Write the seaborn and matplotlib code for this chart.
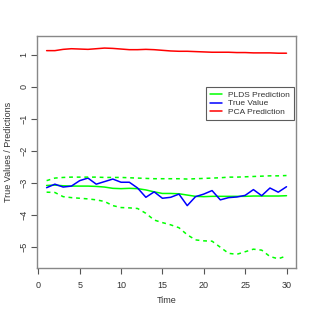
import numpy as np
import pandas as pd
import matplotlib
matplotlib.use("Agg")
import matplotlib.pyplot as plt
import seaborn as sns

time = np.arange(1, 31)

pca_pred = [1.13, 1.13, 1.17, 1.19, 1.18, 1.17, 1.19, 1.21, 1.20, 1.18,
            1.16, 1.16, 1.17, 1.16, 1.14, 1.12, 1.11, 1.11, 1.10, 1.09,
            1.08, 1.08, 1.08, 1.07, 1.07, 1.06, 1.06, 1.06, 1.05, 1.05]

true_value = [-3.15, -3.04, -3.13, -3.10, -2.93, -2.85, -3.04, -2.96, -2.88, -2.98,
              -2.98, -3.16, -3.45, -3.28, -3.48, -3.45, -3.35, -3.71, -3.43, -3.35,
              -3.24, -3.53, -3.46, -3.44, -3.39, -3.21, -3.40, -3.16, -3.29, -3.12]

plds_pred = [-3.08, -3.07, -3.09, -3.10, -3.10, -3.10, -3.11, -3.13, -3.17, -3.18,
             -3.17, -3.18, -3.22, -3.28, -3.33, -3.33, -3.34, -3.38, -3.42, -3.43,
             -3.42, -3.42, -3.42, -3.42, -3.42, -3.41, -3.41, -3.41, -3.41, -3.40]

plds_upper = [-2.93, -2.85, -2.83, -2.82, -2.82, -2.82, -2.82, -2.83, -2.83, -2.83,
              -2.84, -2.85, -2.86, -2.87, -2.87, -2.87, -2.87, -2.88, -2.87, -2.86,
              -2.85, -2.84, -2.82, -2.82, -2.81, -2.80, -2.79, -2.78, -2.78, -2.77]

plds_lower = [-3.29, -3.30, -3.43, -3.46, -3.48, -3.50, -3.53, -3.58, -3.71, -3.77,
              -3.78, -3.80, -3.95, -4.16, -4.24, -4.31, -4.40, -4.62, -4.78, -4.81,
              -4.82, -5.01, -5.20, -5.23, -5.15, -5.07, -5.10, -5.30, -5.37, -5.28]

sns.set_style("white")
plt.rcParams["font.family"] = ["Liberation Sans", "DejaVu Sans"]
grey = "#555555"
txt = "#333333"

fig = plt.figure(figsize=(3.15, 3.15), dpi=100)
ax = fig.add_axes([0.1175, 0.149, 0.8225, 0.737])

lw = 1.1
dash = (0, (2.5, 2.5))
sns.lineplot(x=time, y=plds_pred, color="#00ff00", lw=lw, ax=ax, label="PLDS Prediction")
sns.lineplot(x=time, y=true_value, color="#0000ff", lw=lw, ax=ax, label="True Value")
sns.lineplot(x=time, y=pca_pred, color="#ff0000", lw=lw, ax=ax, label="PCA Prediction")
sns.lineplot(x=time, y=plds_upper, color="#00ff00", lw=lw, ls=dash, ax=ax)
sns.lineplot(x=time, y=plds_lower, color="#00ff00", lw=lw, ls=dash, ax=ax)

ax.set_xlim(-0.16, 31.16)
ax.set_ylim(-5.66, 1.59)
ax.set_xticks([0, 5, 10, 15, 20, 25, 30])
ax.set_yticks([-5, -4, -3, -2, -1, 0, 1])
ax.set_yticklabels(["\u22125", "\u22124", "\u22123", "\u22122", "\u22121", "0", "1"],
                   rotation=90, va="center")
ax.tick_params(axis="both", direction="out", length=4, width=0.8, color=grey,
               labelsize=6.5, labelcolor=txt, bottom=True, left=True)
ax.tick_params(axis="x", pad=5)
ax.tick_params(axis="y", pad=2)
for s in ax.spines.values():
    s.set_color("#888888")
    s.set_linewidth(1.0)

ax.set_xlabel("Time", fontsize=6.5, color=txt)
ax.set_ylabel("True Values / Predictions", fontsize=6.5, color=txt)
ax.xaxis.set_label_coords(0.5, -0.12)
ax.yaxis.set_label_coords(-0.094, 0.5)

leg = ax.legend(loc="upper right", bbox_to_anchor=(0.99, 0.779), fontsize=6,
                frameon=True, fancybox=False, handlelength=1.5, labelspacing=0.1,
                borderpad=0.45, handletextpad=0.7, borderaxespad=0)
leg.get_frame().set_edgecolor(txt)
leg.get_frame().set_linewidth(0.8)
for t in leg.get_texts():
    t.set_color(txt)

fig.savefig("out.png", dpi=100)
